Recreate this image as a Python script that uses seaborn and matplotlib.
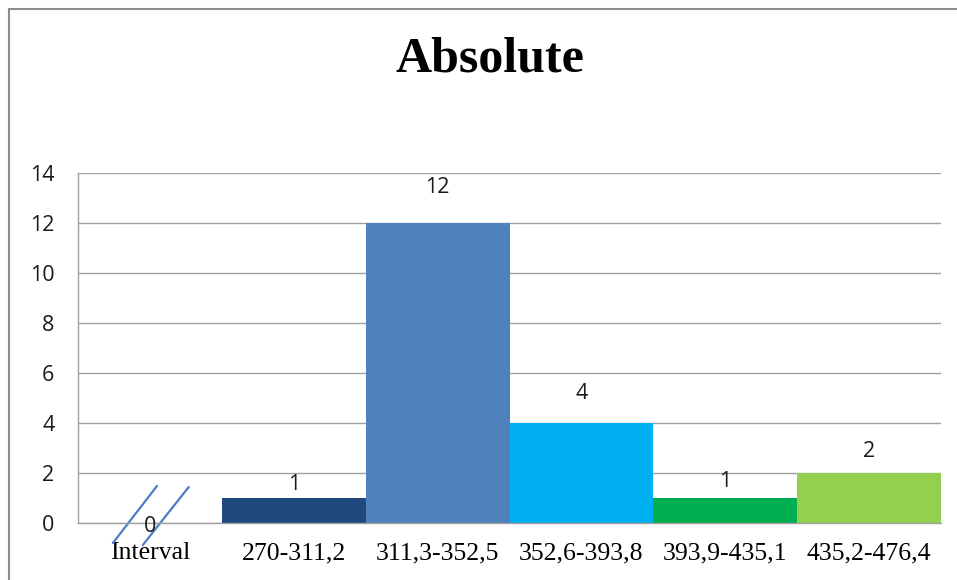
import matplotlib
matplotlib.use("Agg")
import matplotlib.pyplot as plt
from matplotlib.patches import Rectangle
from matplotlib.lines import Line2D
import seaborn as sns
import pandas as pd

# ---- data ----
categories = ["Interval", "270-311,2", "311,3-352,5", "352,6-393,8", "393,9-435,1", "435,2-476,4"]
values = [0, 1, 12, 4, 1, 2]
y_ticks = [0, 2, 4, 6, 8, 10, 12, 14]
title = "Absolute"

# ---- style ----
colors = ["#1F497D", "#1F497D", "#4F81BD", "#00B0F0", "#00B050", "#92D050"]
label_pad_pt = [-10, 2, 18, 14, 4, 8]
SANS = ["Open Sans", "DejaVu Sans"]

sns.set_theme(style="white")
plt.rcParams["font.family"] = SANS

df = pd.DataFrame({"cat": categories, "val": values})

fig = plt.figure(figsize=(9.57, 5.80), dpi=100)
ax = fig.add_axes([0.0815, 0.0983, 0.9018, 0.6034])

sns.barplot(data=df, x="cat", y="val", hue="cat", palette=colors, width=1.0,
            legend=False, ax=ax, saturation=1, edgecolor="none", linewidth=0)

ax.set_ylim(0, 14)
ax.set_yticks(y_ticks)
ax.set_xlim(-0.5, len(categories) - 0.5)
ax.set_xlabel("")
ax.set_ylabel("")
ax.yaxis.grid(True, color="#A0A0A0", linewidth=1.0)
ax.set_axisbelow(True)
for s in ["top", "right"]:
    ax.spines[s].set_visible(False)
for s in ["left", "bottom"]:
    ax.spines[s].set_color("#A0A0A0")
    ax.spines[s].set_linewidth(1.0)

ax.tick_params(axis="y", length=0, pad=17, labelsize=15.5, labelcolor="#1a1a1a")
ax.tick_params(axis="x", length=0, pad=14)
for lab in ax.get_xticklabels():
    lab.set_fontfamily("Liberation Serif")
    lab.set_fontsize(18.5)
    lab.set_color("#000000")
for lab in ax.get_yticklabels():
    lab.set_fontfamily(SANS)

# data labels
for i, v in enumerate(values):
    ax.annotate(str(v), xy=(i, v), xytext=(0, label_pad_pt[i]), textcoords="offset points",
                ha="center", va="bottom", fontsize=15.5, color="#1a1a1a",
                family=SANS, annotation_clip=False)

# hand-drawn axis break marks near "Interval"
for x0, y0, x1, y1 in [(-0.257, -0.8, 0.049, 1.48), (-0.049, -0.88, 0.27, 1.44)]:
    ax.add_line(Line2D([x0, x1], [y0, y1], color="#4A7EC4", linewidth=1.6, clip_on=False))

# title
fig.text(0.512, 0.897, title, ha="center", va="center", fontsize=36, fontweight="bold",
         family="Liberation Serif", color="#000000")

# chart border
fig.patches.append(Rectangle((8.5 / 957, -0.05), 1.2, (580 - 8.5) / 580 + 0.05,
                             transform=fig.transFigure, fill=False,
                             edgecolor="#8C8C8C", linewidth=1.5, figure=fig))

fig.savefig("out.png", dpi=100)
